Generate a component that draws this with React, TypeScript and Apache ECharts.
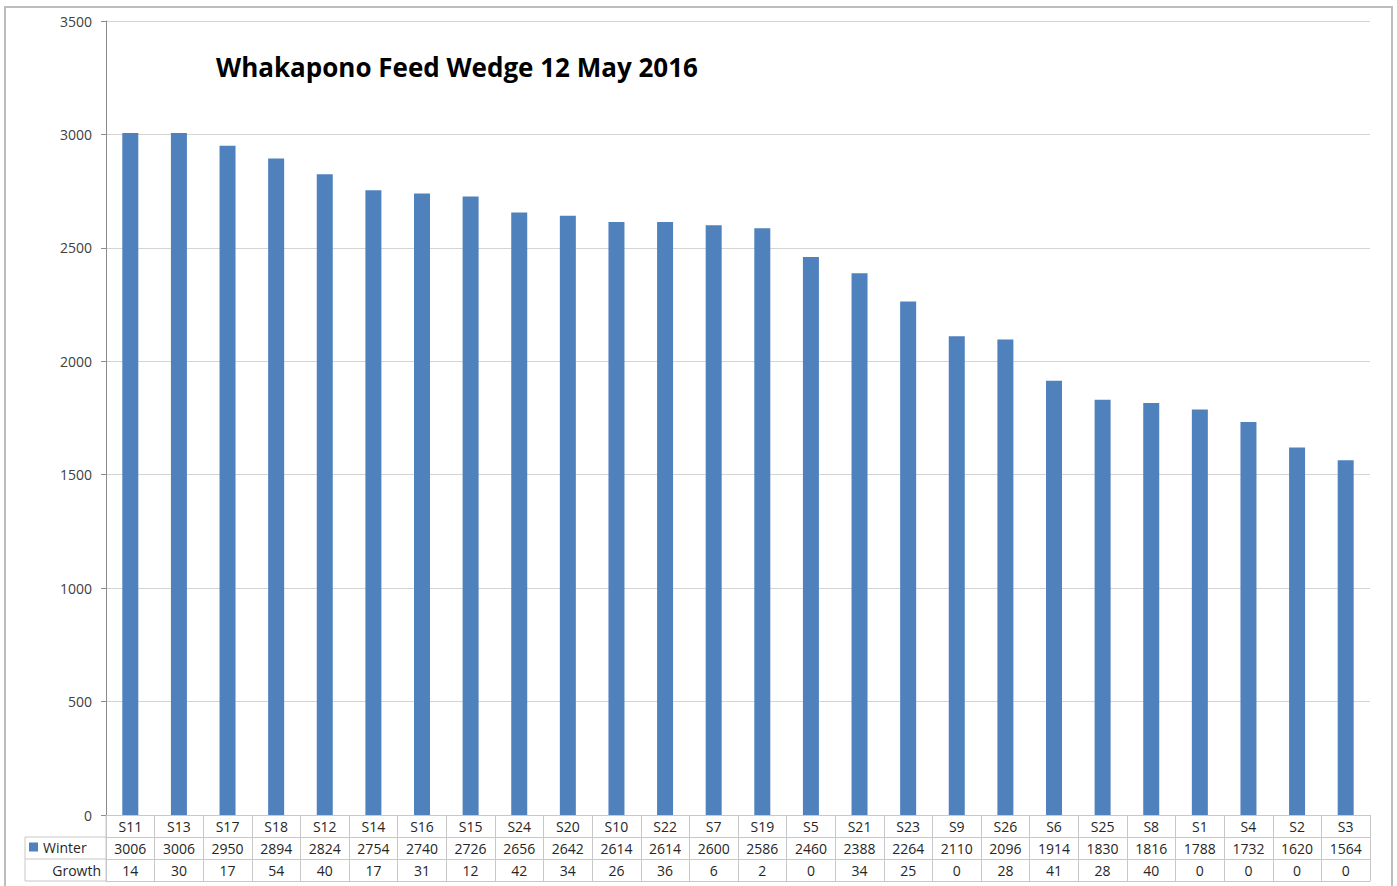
import React, { useEffect, useRef } from "react";
import * as echarts from "echarts";

const categories = ["S11","S13","S17","S18","S12","S14","S16","S15","S24","S20","S10","S22","S7","S19","S5","S21","S23","S9","S26","S6","S25","S8","S1","S4","S2","S3"];
const winter = [3006,3006,2950,2894,2824,2754,2740,2726,2656,2642,2614,2614,2600,2586,2460,2388,2264,2110,2096,1914,1830,1816,1788,1732,1620,1564];
const growth = [14,30,17,54,40,17,31,12,42,34,26,36,6,2,0,34,25,0,28,41,28,40,0,0,0,0];
const yTicks = [0, 500, 1000, 1500, 2000, 2500, 3000, 3500];

const W = 1397;
const H = 886;
const GRID_LEFT = 106;
const GRID_RIGHT = 27;
const GRID_TOP = 21;
const GRID_BOTTOM = 71;
const ROW_H = 22;
const TABLE_LEFT = 25;
const FONT = "'Open Sans', 'Liberation Sans', sans-serif";
const BLUE = "#4f81bd";
const LINE = "#c8c8c8";

export default function App() {
  const ref = useRef<HTMLDivElement>(null);
  useEffect(() => {
    document.body.style.margin = "0";
    if (!ref.current) return;
    const chart = echarts.init(ref.current, undefined, { renderer: "svg" });
    const axisY = H - GRID_BOTTOM;
    const rowTop = (i: number) => axisY + ROW_H * i;
    const tableAxis = (offset: number, fmt: ((v: string, i: number) => string) | null) => ({
      type: "category",
      data: categories,
      position: "bottom",
      offset,
      axisLine: { show: true, lineStyle: { color: LINE, width: 1 } },
      axisTick: { show: fmt !== null, interval: 0, length: ROW_H, lineStyle: { color: LINE } },
      axisLabel: fmt
        ? { show: true, interval: 0, margin: 4, fontSize: 14, color: "#262626", fontFamily: FONT, formatter: fmt }
        : { show: false },
      splitLine: { show: false },
    });
    chart.setOption({
      animation: false,
      backgroundColor: "#ffffff",
      title: {
        text: "Whakapono Feed Wedge 12 May 2016",
        left: 211,
        top: 49,
        textStyle: { fontFamily: FONT, fontWeight: "bold", fontSize: 26, color: "#000000" },
      },
      grid: { left: GRID_LEFT, right: GRID_RIGHT, top: GRID_TOP, bottom: GRID_BOTTOM },
      legend: {
        show: true,
        left: TABLE_LEFT + 4,
        top: rowTop(1) + 3,
        itemWidth: 9,
        itemHeight: 9,
        itemGap: 4,
        icon: "rect",
        data: ["Winter"],
        textStyle: { fontFamily: FONT, fontSize: 14, color: "#262626", padding: [0, 0, 0, 0] },
        padding: 0,
      },
      xAxis: [
        tableAxis(0, (v: string) => v),
        tableAxis(ROW_H, (_v: string, i: number) => String(winter[i])),
        tableAxis(ROW_H * 2, (_v: string, i: number) => String(growth[i])),
        tableAxis(ROW_H * 3, null),
      ],
      yAxis: {
        type: "value",
        min: yTicks[0],
        max: yTicks[yTicks.length - 1],
        interval: 500,
        axisLine: { show: true, lineStyle: { color: "#8c8c8c" } },
        axisTick: { show: true, length: 5, lineStyle: { color: "#8c8c8c" } },
        axisLabel: {
          fontFamily: FONT,
          fontSize: 14,
          color: "#404040",
          margin: 14,
          formatter: (v: number) => String(v),
        },
        splitLine: { show: true, lineStyle: { color: "#d4d4d4", width: 1 } },
      },
      series: [
        {
          name: "Winter",
          type: "bar",
          data: winter,
          barWidth: 16,
          itemStyle: { color: BLUE },
          xAxisIndex: 0,
        },
      ],
      graphic: [
        {
          type: "rect",
          shape: { x: 5, y: 7, width: W - 10, height: H + 20 },
          style: { fill: "none", stroke: "#bdbdbd", lineWidth: 2 },
          silent: true,
        },
        {
          type: "line",
          shape: { x1: TABLE_LEFT, y1: rowTop(1), x2: GRID_LEFT, y2: rowTop(1) },
          style: { stroke: LINE, lineWidth: 1 },
        },
        {
          type: "line",
          shape: { x1: TABLE_LEFT, y1: rowTop(2), x2: GRID_LEFT, y2: rowTop(2) },
          style: { stroke: LINE, lineWidth: 1 },
        },
        {
          type: "line",
          shape: { x1: TABLE_LEFT, y1: rowTop(3), x2: GRID_LEFT, y2: rowTop(3) },
          style: { stroke: LINE, lineWidth: 1 },
        },
        {
          type: "line",
          shape: { x1: TABLE_LEFT, y1: rowTop(1), x2: TABLE_LEFT, y2: rowTop(3) },
          style: { stroke: LINE, lineWidth: 1 },
        },
        {
          type: "line",
          shape: { x1: GRID_LEFT, y1: rowTop(0), x2: GRID_LEFT, y2: rowTop(3) },
          style: { stroke: LINE, lineWidth: 1 },
        },
        {
          type: "text",
          x: GRID_LEFT - 5,
          y: rowTop(2) + ROW_H / 2,
          style: {
            text: "Growth",
            align: "right",
            verticalAlign: "middle",
            fontFamily: FONT,
            fontSize: 14,
            fill: "#262626",
          },
        },
      ],
    });
    return () => chart.dispose();
  }, []);
  return <div ref={ref} style={{ width: W, height: H }} />;
}
